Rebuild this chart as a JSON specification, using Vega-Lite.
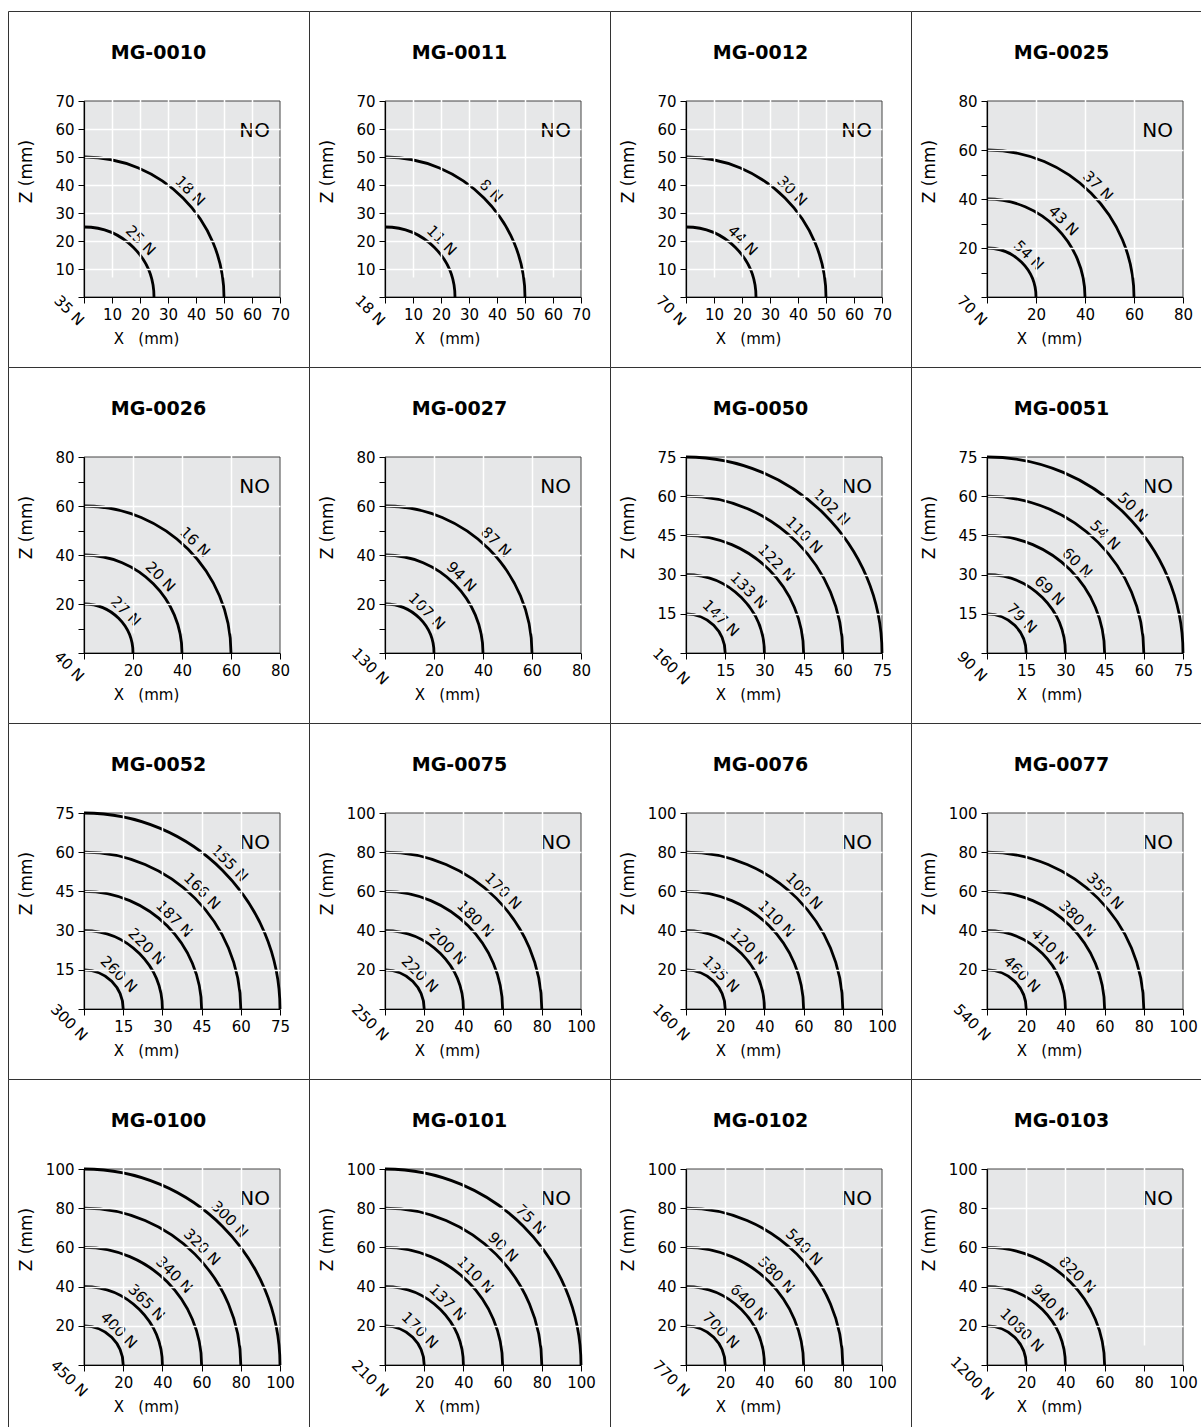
{
"$schema":"https://vega.github.io/schema/vega-lite/v6.json",
"padding":{"left":7,"top":10,"right":0,"bottom":0},
"background":"white",
"columns":4,
"spacing":0,
"bounds":"flush",
"resolve":{"scale":{"size":"independent"}},
"config":{
 "font":"DejaVu Sans",
 "view":{"stroke":"#333","strokeWidth":1,"fill":"#fff"},
 "title":{"fontSize":19,"fontWeight":"bold","color":"#000","offset":-52,"anchor":"middle","frame":"group","font":"DejaVu Sans"},
 "axis":{"grid":true,"gridColor":"#fff","gridWidth":1.5,"domainColor":"#000","domainWidth":1.2,"tickColor":"#000","tickSize":6,"tickWidth":1,"labelFont":"DejaVu Sans","labelFontSize":15,"labelColor":"#000","labelPadding":4,"labelFlush":false,"labelOverlap":false,"titleFont":"DejaVu Sans","titleFontWeight":"normal","titleColor":"#000","titleAlign":"center","titleBaseline":"middle"},
 "axisX":{"titleFontSize":15},
 "axisY":{"titleFontSize":17},
 "text":{"font":"DejaVu Sans"}
},
"concat":[
{"title":"MG-0010","width":301,"height":356,
 "data":{"values":[{"r":50,"label":"18 N","lx":35.36,"ly":35.36},{"r":25,"label":"25 N","lx":17.68,"ly":17.68}]},
 "layer":[
  {"data":{"values":[{"min":0,"max":70}]},"mark":{"type":"rect","fill":"#e6e7e8","stroke":"#444","strokeWidth":1},
   "encoding":{
    "x":{"field":"min","type":"quantitative","scale":{"domain":[0,70],"range":[76,272],"nice":false},"axis":{"values":[0,10,20,30,40,50,60,70],"labelExpr":"datum.value > 0 ? datum.label : ''","labelOverlap":false,"gridOpacity":{"condition":{"test":"datum.value > 0 && datum.value < 70","value":1},"value":0},"offset":-70,"zindex":1,"title":"X\u00a0\u00a0\u00a0(mm)","titleX":138,"titleY":41}},
    "x2":{"field":"max"},
    "y":{"field":"min","type":"quantitative","scale":{"domain":[0,70],"range":[286,90],"nice":false},"axis":{"values":[0,10,20,30,40,50,60,70],"labelExpr":"datum.value > 0 ? datum.label : ''","labelOverlap":false,"gridOpacity":{"condition":{"test":"datum.value > 0 && datum.value < 70","value":1},"value":0},"offset":-76,"zindex":1,"title":"Z (mm)","titleX":-58,"titleY":160}},
    "y2":{"field":"max"}}},
  {"mark":{"type":"point","shape":"M-1,0A1,1,0,0,1,0,1","filled":false,"stroke":"#000","strokeWidth":2.8,"opacity":1},"encoding":{"x":{"field":"r","type":"quantitative"},"y":{"field":"r","type":"quantitative"},"size":{"field":"r","type":"quantitative","legend":null,"scale":{"type":"pow","exponent":2,"domain":[0,70],"range":[0,153664]}}}},
  {"mark":{"type":"text","angle":45,"dy":-10,"fontSize":15,"color":"#000"},"encoding":{"x":{"field":"lx","type":"quantitative"},"y":{"field":"ly","type":"quantitative"},"text":{"field":"label"}}},
  {"data":{"values":[{"max":70,"zone":"NO"}]},"mark":{"type":"text","align":"right","baseline":"middle","dx":-10,"dy":30,"fontSize":20,"color":"#000"},"encoding":{"x":{"field":"max","type":"quantitative"},"y":{"field":"max","type":"quantitative"},"text":{"field":"zone"}}},
  {"data":{"values":[{"min":0,"corner":"35 N"}]},"mark":{"type":"text","angle":45,"dx":-1,"dy":20,"fontSize":15,"color":"#000"},"encoding":{"x":{"field":"min","type":"quantitative"},"y":{"field":"min","type":"quantitative"},"text":{"field":"corner"}}}
 ]},
{"title":"MG-0011","width":301,"height":356,
 "data":{"values":[{"r":50,"label":"8 N","lx":35.36,"ly":35.36},{"r":25,"label":"11 N","lx":17.68,"ly":17.68}]},
 "layer":[
  {"data":{"values":[{"min":0,"max":70}]},"mark":{"type":"rect","fill":"#e6e7e8","stroke":"#444","strokeWidth":1},
   "encoding":{
    "x":{"field":"min","type":"quantitative","scale":{"domain":[0,70],"range":[76,272],"nice":false},"axis":{"values":[0,10,20,30,40,50,60,70],"labelExpr":"datum.value > 0 ? datum.label : ''","labelOverlap":false,"gridOpacity":{"condition":{"test":"datum.value > 0 && datum.value < 70","value":1},"value":0},"offset":-70,"zindex":1,"title":"X\u00a0\u00a0\u00a0(mm)","titleX":138,"titleY":41}},
    "x2":{"field":"max"},
    "y":{"field":"min","type":"quantitative","scale":{"domain":[0,70],"range":[286,90],"nice":false},"axis":{"values":[0,10,20,30,40,50,60,70],"labelExpr":"datum.value > 0 ? datum.label : ''","labelOverlap":false,"gridOpacity":{"condition":{"test":"datum.value > 0 && datum.value < 70","value":1},"value":0},"offset":-76,"zindex":1,"title":"Z (mm)","titleX":-58,"titleY":160}},
    "y2":{"field":"max"}}},
  {"mark":{"type":"point","shape":"M-1,0A1,1,0,0,1,0,1","filled":false,"stroke":"#000","strokeWidth":2.8,"opacity":1},"encoding":{"x":{"field":"r","type":"quantitative"},"y":{"field":"r","type":"quantitative"},"size":{"field":"r","type":"quantitative","legend":null,"scale":{"type":"pow","exponent":2,"domain":[0,70],"range":[0,153664]}}}},
  {"mark":{"type":"text","angle":45,"dy":-10,"fontSize":15,"color":"#000"},"encoding":{"x":{"field":"lx","type":"quantitative"},"y":{"field":"ly","type":"quantitative"},"text":{"field":"label"}}},
  {"data":{"values":[{"max":70,"zone":"NO"}]},"mark":{"type":"text","align":"right","baseline":"middle","dx":-10,"dy":30,"fontSize":20,"color":"#000"},"encoding":{"x":{"field":"max","type":"quantitative"},"y":{"field":"max","type":"quantitative"},"text":{"field":"zone"}}},
  {"data":{"values":[{"min":0,"corner":"18 N"}]},"mark":{"type":"text","angle":45,"dx":-1,"dy":20,"fontSize":15,"color":"#000"},"encoding":{"x":{"field":"min","type":"quantitative"},"y":{"field":"min","type":"quantitative"},"text":{"field":"corner"}}}
 ]},
{"title":"MG-0012","width":301,"height":356,
 "data":{"values":[{"r":50,"label":"30 N","lx":35.36,"ly":35.36},{"r":25,"label":"44 N","lx":17.68,"ly":17.68}]},
 "layer":[
  {"data":{"values":[{"min":0,"max":70}]},"mark":{"type":"rect","fill":"#e6e7e8","stroke":"#444","strokeWidth":1},
   "encoding":{
    "x":{"field":"min","type":"quantitative","scale":{"domain":[0,70],"range":[76,272],"nice":false},"axis":{"values":[0,10,20,30,40,50,60,70],"labelExpr":"datum.value > 0 ? datum.label : ''","labelOverlap":false,"gridOpacity":{"condition":{"test":"datum.value > 0 && datum.value < 70","value":1},"value":0},"offset":-70,"zindex":1,"title":"X\u00a0\u00a0\u00a0(mm)","titleX":138,"titleY":41}},
    "x2":{"field":"max"},
    "y":{"field":"min","type":"quantitative","scale":{"domain":[0,70],"range":[286,90],"nice":false},"axis":{"values":[0,10,20,30,40,50,60,70],"labelExpr":"datum.value > 0 ? datum.label : ''","labelOverlap":false,"gridOpacity":{"condition":{"test":"datum.value > 0 && datum.value < 70","value":1},"value":0},"offset":-76,"zindex":1,"title":"Z (mm)","titleX":-58,"titleY":160}},
    "y2":{"field":"max"}}},
  {"mark":{"type":"point","shape":"M-1,0A1,1,0,0,1,0,1","filled":false,"stroke":"#000","strokeWidth":2.8,"opacity":1},"encoding":{"x":{"field":"r","type":"quantitative"},"y":{"field":"r","type":"quantitative"},"size":{"field":"r","type":"quantitative","legend":null,"scale":{"type":"pow","exponent":2,"domain":[0,70],"range":[0,153664]}}}},
  {"mark":{"type":"text","angle":45,"dy":-10,"fontSize":15,"color":"#000"},"encoding":{"x":{"field":"lx","type":"quantitative"},"y":{"field":"ly","type":"quantitative"},"text":{"field":"label"}}},
  {"data":{"values":[{"max":70,"zone":"NO"}]},"mark":{"type":"text","align":"right","baseline":"middle","dx":-10,"dy":30,"fontSize":20,"color":"#000"},"encoding":{"x":{"field":"max","type":"quantitative"},"y":{"field":"max","type":"quantitative"},"text":{"field":"zone"}}},
  {"data":{"values":[{"min":0,"corner":"70 N"}]},"mark":{"type":"text","angle":45,"dx":-1,"dy":20,"fontSize":15,"color":"#000"},"encoding":{"x":{"field":"min","type":"quantitative"},"y":{"field":"min","type":"quantitative"},"text":{"field":"corner"}}}
 ]},
{"title":"MG-0025","width":301,"height":356,
 "data":{"values":[{"r":60,"label":"37 N","lx":42.43,"ly":42.43},{"r":40,"label":"43 N","lx":28.28,"ly":28.28},{"r":20,"label":"54 N","lx":14.14,"ly":14.14}]},
 "layer":[
  {"data":{"values":[{"min":0,"max":80}]},"mark":{"type":"rect","fill":"#e6e7e8","stroke":"#444","strokeWidth":1},
   "encoding":{
    "x":{"field":"min","type":"quantitative","scale":{"domain":[0,80],"range":[76,272],"nice":false},"axis":{"values":[0,10,20,30,40,50,60,70,80],"labelExpr":"datum.value > 0 && datum.value % 20 === 0 ? datum.label : ''","labelOverlap":false,"gridOpacity":{"condition":{"test":"datum.value > 0 && datum.value < 80 && datum.value % 20 === 0","value":1},"value":0},"offset":-70,"zindex":1,"title":"X\u00a0\u00a0\u00a0(mm)","titleX":138,"titleY":41}},
    "x2":{"field":"max"},
    "y":{"field":"min","type":"quantitative","scale":{"domain":[0,80],"range":[286,90],"nice":false},"axis":{"values":[0,10,20,30,40,50,60,70,80],"labelExpr":"datum.value > 0 && datum.value % 20 === 0 ? datum.label : ''","labelOverlap":false,"gridOpacity":{"condition":{"test":"datum.value > 0 && datum.value < 80 && datum.value % 20 === 0","value":1},"value":0},"offset":-76,"zindex":1,"title":"Z (mm)","titleX":-58,"titleY":160}},
    "y2":{"field":"max"}}},
  {"mark":{"type":"point","shape":"M-1,0A1,1,0,0,1,0,1","filled":false,"stroke":"#000","strokeWidth":2.8,"opacity":1},"encoding":{"x":{"field":"r","type":"quantitative"},"y":{"field":"r","type":"quantitative"},"size":{"field":"r","type":"quantitative","legend":null,"scale":{"type":"pow","exponent":2,"domain":[0,80],"range":[0,153664]}}}},
  {"mark":{"type":"text","angle":45,"dy":-10,"fontSize":15,"color":"#000"},"encoding":{"x":{"field":"lx","type":"quantitative"},"y":{"field":"ly","type":"quantitative"},"text":{"field":"label"}}},
  {"data":{"values":[{"max":80,"zone":"NO"}]},"mark":{"type":"text","align":"right","baseline":"middle","dx":-10,"dy":30,"fontSize":20,"color":"#000"},"encoding":{"x":{"field":"max","type":"quantitative"},"y":{"field":"max","type":"quantitative"},"text":{"field":"zone"}}},
  {"data":{"values":[{"min":0,"corner":"70 N"}]},"mark":{"type":"text","angle":45,"dx":-1,"dy":20,"fontSize":15,"color":"#000"},"encoding":{"x":{"field":"min","type":"quantitative"},"y":{"field":"min","type":"quantitative"},"text":{"field":"corner"}}}
 ]},
{"title":"MG-0026","width":301,"height":356,
 "data":{"values":[{"r":60,"label":"16 N","lx":42.43,"ly":42.43},{"r":40,"label":"20 N","lx":28.28,"ly":28.28},{"r":20,"label":"27 N","lx":14.14,"ly":14.14}]},
 "layer":[
  {"data":{"values":[{"min":0,"max":80}]},"mark":{"type":"rect","fill":"#e6e7e8","stroke":"#444","strokeWidth":1},
   "encoding":{
    "x":{"field":"min","type":"quantitative","scale":{"domain":[0,80],"range":[76,272],"nice":false},"axis":{"values":[0,10,20,30,40,50,60,70,80],"labelExpr":"datum.value > 0 && datum.value % 20 === 0 ? datum.label : ''","labelOverlap":false,"gridOpacity":{"condition":{"test":"datum.value > 0 && datum.value < 80 && datum.value % 20 === 0","value":1},"value":0},"offset":-70,"zindex":1,"title":"X\u00a0\u00a0\u00a0(mm)","titleX":138,"titleY":41}},
    "x2":{"field":"max"},
    "y":{"field":"min","type":"quantitative","scale":{"domain":[0,80],"range":[286,90],"nice":false},"axis":{"values":[0,10,20,30,40,50,60,70,80],"labelExpr":"datum.value > 0 && datum.value % 20 === 0 ? datum.label : ''","labelOverlap":false,"gridOpacity":{"condition":{"test":"datum.value > 0 && datum.value < 80 && datum.value % 20 === 0","value":1},"value":0},"offset":-76,"zindex":1,"title":"Z (mm)","titleX":-58,"titleY":160}},
    "y2":{"field":"max"}}},
  {"mark":{"type":"point","shape":"M-1,0A1,1,0,0,1,0,1","filled":false,"stroke":"#000","strokeWidth":2.8,"opacity":1},"encoding":{"x":{"field":"r","type":"quantitative"},"y":{"field":"r","type":"quantitative"},"size":{"field":"r","type":"quantitative","legend":null,"scale":{"type":"pow","exponent":2,"domain":[0,80],"range":[0,153664]}}}},
  {"mark":{"type":"text","angle":45,"dy":-10,"fontSize":15,"color":"#000"},"encoding":{"x":{"field":"lx","type":"quantitative"},"y":{"field":"ly","type":"quantitative"},"text":{"field":"label"}}},
  {"data":{"values":[{"max":80,"zone":"NO"}]},"mark":{"type":"text","align":"right","baseline":"middle","dx":-10,"dy":30,"fontSize":20,"color":"#000"},"encoding":{"x":{"field":"max","type":"quantitative"},"y":{"field":"max","type":"quantitative"},"text":{"field":"zone"}}},
  {"data":{"values":[{"min":0,"corner":"40 N"}]},"mark":{"type":"text","angle":45,"dx":-1,"dy":20,"fontSize":15,"color":"#000"},"encoding":{"x":{"field":"min","type":"quantitative"},"y":{"field":"min","type":"quantitative"},"text":{"field":"corner"}}}
 ]},
{"title":"MG-0027","width":301,"height":356,
 "data":{"values":[{"r":60,"label":"87 N","lx":42.43,"ly":42.43},{"r":40,"label":"94 N","lx":28.28,"ly":28.28},{"r":20,"label":"107 N","lx":14.14,"ly":14.14}]},
 "layer":[
  {"data":{"values":[{"min":0,"max":80}]},"mark":{"type":"rect","fill":"#e6e7e8","stroke":"#444","strokeWidth":1},
   "encoding":{
    "x":{"field":"min","type":"quantitative","scale":{"domain":[0,80],"range":[76,272],"nice":false},"axis":{"values":[0,10,20,30,40,50,60,70,80],"labelExpr":"datum.value > 0 && datum.value % 20 === 0 ? datum.label : ''","labelOverlap":false,"gridOpacity":{"condition":{"test":"datum.value > 0 && datum.value < 80 && datum.value % 20 === 0","value":1},"value":0},"offset":-70,"zindex":1,"title":"X\u00a0\u00a0\u00a0(mm)","titleX":138,"titleY":41}},
    "x2":{"field":"max"},
    "y":{"field":"min","type":"quantitative","scale":{"domain":[0,80],"range":[286,90],"nice":false},"axis":{"values":[0,10,20,30,40,50,60,70,80],"labelExpr":"datum.value > 0 && datum.value % 20 === 0 ? datum.label : ''","labelOverlap":false,"gridOpacity":{"condition":{"test":"datum.value > 0 && datum.value < 80 && datum.value % 20 === 0","value":1},"value":0},"offset":-76,"zindex":1,"title":"Z (mm)","titleX":-58,"titleY":160}},
    "y2":{"field":"max"}}},
  {"mark":{"type":"point","shape":"M-1,0A1,1,0,0,1,0,1","filled":false,"stroke":"#000","strokeWidth":2.8,"opacity":1},"encoding":{"x":{"field":"r","type":"quantitative"},"y":{"field":"r","type":"quantitative"},"size":{"field":"r","type":"quantitative","legend":null,"scale":{"type":"pow","exponent":2,"domain":[0,80],"range":[0,153664]}}}},
  {"mark":{"type":"text","angle":45,"dy":-10,"fontSize":15,"color":"#000"},"encoding":{"x":{"field":"lx","type":"quantitative"},"y":{"field":"ly","type":"quantitative"},"text":{"field":"label"}}},
  {"data":{"values":[{"max":80,"zone":"NO"}]},"mark":{"type":"text","align":"right","baseline":"middle","dx":-10,"dy":30,"fontSize":20,"color":"#000"},"encoding":{"x":{"field":"max","type":"quantitative"},"y":{"field":"max","type":"quantitative"},"text":{"field":"zone"}}},
  {"data":{"values":[{"min":0,"corner":"130 N"}]},"mark":{"type":"text","angle":45,"dx":-1,"dy":20,"fontSize":15,"color":"#000"},"encoding":{"x":{"field":"min","type":"quantitative"},"y":{"field":"min","type":"quantitative"},"text":{"field":"corner"}}}
 ]},
{"title":"MG-0050","width":301,"height":356,
 "data":{"values":[{"r":75,"label":"102 N","lx":53.03,"ly":53.03},{"r":60,"label":"110 N","lx":42.43,"ly":42.43},{"r":45,"label":"122 N","lx":31.82,"ly":31.82},{"r":30,"label":"133 N","lx":21.21,"ly":21.21},{"r":15,"label":"147 N","lx":10.61,"ly":10.61}]},
 "layer":[
  {"data":{"values":[{"min":0,"max":75}]},"mark":{"type":"rect","fill":"#e6e7e8","stroke":"#444","strokeWidth":1},
   "encoding":{
    "x":{"field":"min","type":"quantitative","scale":{"domain":[0,75],"range":[76,272],"nice":false},"axis":{"values":[0,15,30,45,60,75],"labelExpr":"datum.value > 0 ? datum.label : ''","labelOverlap":false,"gridOpacity":{"condition":{"test":"datum.value > 0 && datum.value < 75","value":1},"value":0},"offset":-70,"zindex":1,"title":"X\u00a0\u00a0\u00a0(mm)","titleX":138,"titleY":41}},
    "x2":{"field":"max"},
    "y":{"field":"min","type":"quantitative","scale":{"domain":[0,75],"range":[286,90],"nice":false},"axis":{"values":[0,15,30,45,60,75],"labelExpr":"datum.value > 0 ? datum.label : ''","labelOverlap":false,"gridOpacity":{"condition":{"test":"datum.value > 0 && datum.value < 75","value":1},"value":0},"offset":-76,"zindex":1,"title":"Z (mm)","titleX":-58,"titleY":160}},
    "y2":{"field":"max"}}},
  {"mark":{"type":"point","shape":"M-1,0A1,1,0,0,1,0,1","filled":false,"stroke":"#000","strokeWidth":2.8,"opacity":1},"encoding":{"x":{"field":"r","type":"quantitative"},"y":{"field":"r","type":"quantitative"},"size":{"field":"r","type":"quantitative","legend":null,"scale":{"type":"pow","exponent":2,"domain":[0,75],"range":[0,153664]}}}},
  {"mark":{"type":"text","angle":45,"dy":-10,"fontSize":15,"color":"#000"},"encoding":{"x":{"field":"lx","type":"quantitative"},"y":{"field":"ly","type":"quantitative"},"text":{"field":"label"}}},
  {"data":{"values":[{"max":75,"zone":"NO"}]},"mark":{"type":"text","align":"right","baseline":"middle","dx":-10,"dy":30,"fontSize":20,"color":"#000"},"encoding":{"x":{"field":"max","type":"quantitative"},"y":{"field":"max","type":"quantitative"},"text":{"field":"zone"}}},
  {"data":{"values":[{"min":0,"corner":"160 N"}]},"mark":{"type":"text","angle":45,"dx":-1,"dy":20,"fontSize":15,"color":"#000"},"encoding":{"x":{"field":"min","type":"quantitative"},"y":{"field":"min","type":"quantitative"},"text":{"field":"corner"}}}
 ]},
{"title":"MG-0051","width":301,"height":356,
 "data":{"values":[{"r":75,"label":"50 N","lx":53.03,"ly":53.03},{"r":60,"label":"54 N","lx":42.43,"ly":42.43},{"r":45,"label":"60 N","lx":31.82,"ly":31.82},{"r":30,"label":"69 N","lx":21.21,"ly":21.21},{"r":15,"label":"79 N","lx":10.61,"ly":10.61}]},
 "layer":[
  {"data":{"values":[{"min":0,"max":75}]},"mark":{"type":"rect","fill":"#e6e7e8","stroke":"#444","strokeWidth":1},
   "encoding":{
    "x":{"field":"min","type":"quantitative","scale":{"domain":[0,75],"range":[76,272],"nice":false},"axis":{"values":[0,15,30,45,60,75],"labelExpr":"datum.value > 0 ? datum.label : ''","labelOverlap":false,"gridOpacity":{"condition":{"test":"datum.value > 0 && datum.value < 75","value":1},"value":0},"offset":-70,"zindex":1,"title":"X\u00a0\u00a0\u00a0(mm)","titleX":138,"titleY":41}},
    "x2":{"field":"max"},
    "y":{"field":"min","type":"quantitative","scale":{"domain":[0,75],"range":[286,90],"nice":false},"axis":{"values":[0,15,30,45,60,75],"labelExpr":"datum.value > 0 ? datum.label : ''","labelOverlap":false,"gridOpacity":{"condition":{"test":"datum.value > 0 && datum.value < 75","value":1},"value":0},"offset":-76,"zindex":1,"title":"Z (mm)","titleX":-58,"titleY":160}},
    "y2":{"field":"max"}}},
  {"mark":{"type":"point","shape":"M-1,0A1,1,0,0,1,0,1","filled":false,"stroke":"#000","strokeWidth":2.8,"opacity":1},"encoding":{"x":{"field":"r","type":"quantitative"},"y":{"field":"r","type":"quantitative"},"size":{"field":"r","type":"quantitative","legend":null,"scale":{"type":"pow","exponent":2,"domain":[0,75],"range":[0,153664]}}}},
  {"mark":{"type":"text","angle":45,"dy":-10,"fontSize":15,"color":"#000"},"encoding":{"x":{"field":"lx","type":"quantitative"},"y":{"field":"ly","type":"quantitative"},"text":{"field":"label"}}},
  {"data":{"values":[{"max":75,"zone":"NO"}]},"mark":{"type":"text","align":"right","baseline":"middle","dx":-10,"dy":30,"fontSize":20,"color":"#000"},"encoding":{"x":{"field":"max","type":"quantitative"},"y":{"field":"max","type":"quantitative"},"text":{"field":"zone"}}},
  {"data":{"values":[{"min":0,"corner":"90 N"}]},"mark":{"type":"text","angle":45,"dx":-1,"dy":20,"fontSize":15,"color":"#000"},"encoding":{"x":{"field":"min","type":"quantitative"},"y":{"field":"min","type":"quantitative"},"text":{"field":"corner"}}}
 ]},
{"title":"MG-0052","width":301,"height":356,
 "data":{"values":[{"r":75,"label":"155 N","lx":53.03,"ly":53.03},{"r":60,"label":"166 N","lx":42.43,"ly":42.43},{"r":45,"label":"187 N","lx":31.82,"ly":31.82},{"r":30,"label":"220 N","lx":21.21,"ly":21.21},{"r":15,"label":"260 N","lx":10.61,"ly":10.61}]},
 "layer":[
  {"data":{"values":[{"min":0,"max":75}]},"mark":{"type":"rect","fill":"#e6e7e8","stroke":"#444","strokeWidth":1},
   "encoding":{
    "x":{"field":"min","type":"quantitative","scale":{"domain":[0,75],"range":[76,272],"nice":false},"axis":{"values":[0,15,30,45,60,75],"labelExpr":"datum.value > 0 ? datum.label : ''","labelOverlap":false,"gridOpacity":{"condition":{"test":"datum.value > 0 && datum.value < 75","value":1},"value":0},"offset":-70,"zindex":1,"title":"X\u00a0\u00a0\u00a0(mm)","titleX":138,"titleY":41}},
    "x2":{"field":"max"},
    "y":{"field":"min","type":"quantitative","scale":{"domain":[0,75],"range":[286,90],"nice":false},"axis":{"values":[0,15,30,45,60,75],"labelExpr":"datum.value > 0 ? datum.label : ''","labelOverlap":false,"gridOpacity":{"condition":{"test":"datum.value > 0 && datum.value < 75","value":1},"value":0},"offset":-76,"zindex":1,"title":"Z (mm)","titleX":-58,"titleY":160}},
    "y2":{"field":"max"}}},
  {"mark":{"type":"point","shape":"M-1,0A1,1,0,0,1,0,1","filled":false,"stroke":"#000","strokeWidth":2.8,"opacity":1},"encoding":{"x":{"field":"r","type":"quantitative"},"y":{"field":"r","type":"quantitative"},"size":{"field":"r","type":"quantitative","legend":null,"scale":{"type":"pow","exponent":2,"domain":[0,75],"range":[0,153664]}}}},
  {"mark":{"type":"text","angle":45,"dy":-10,"fontSize":15,"color":"#000"},"encoding":{"x":{"field":"lx","type":"quantitative"},"y":{"field":"ly","type":"quantitative"},"text":{"field":"label"}}},
  {"data":{"values":[{"max":75,"zone":"NO"}]},"mark":{"type":"text","align":"right","baseline":"middle","dx":-10,"dy":30,"fontSize":20,"color":"#000"},"encoding":{"x":{"field":"max","type":"quantitative"},"y":{"field":"max","type":"quantitative"},"text":{"field":"zone"}}},
  {"data":{"values":[{"min":0,"corner":"300 N"}]},"mark":{"type":"text","angle":45,"dx":-1,"dy":20,"fontSize":15,"color":"#000"},"encoding":{"x":{"field":"min","type":"quantitative"},"y":{"field":"min","type":"quantitative"},"text":{"field":"corner"}}}
 ]},
{"title":"MG-0075","width":301,"height":356,
 "data":{"values":[{"r":80,"label":"170 N","lx":56.57,"ly":56.57},{"r":60,"label":"180 N","lx":42.43,"ly":42.43},{"r":40,"label":"200 N","lx":28.28,"ly":28.28},{"r":20,"label":"220 N","lx":14.14,"ly":14.14}]},
 "layer":[
  {"data":{"values":[{"min":0,"max":100}]},"mark":{"type":"rect","fill":"#e6e7e8","stroke":"#444","strokeWidth":1},
   "encoding":{
    "x":{"field":"min","type":"quantitative","scale":{"domain":[0,100],"range":[76,272],"nice":false},"axis":{"values":[0,20,40,60,80,100],"labelExpr":"datum.value > 0 ? datum.label : ''","labelOverlap":false,"gridOpacity":{"condition":{"test":"datum.value > 0 && datum.value < 100","value":1},"value":0},"offset":-70,"zindex":1,"title":"X\u00a0\u00a0\u00a0(mm)","titleX":138,"titleY":41}},
    "x2":{"field":"max"},
    "y":{"field":"min","type":"quantitative","scale":{"domain":[0,100],"range":[286,90],"nice":false},"axis":{"values":[0,20,40,60,80,100],"labelExpr":"datum.value > 0 ? datum.label : ''","labelOverlap":false,"gridOpacity":{"condition":{"test":"datum.value > 0 && datum.value < 100","value":1},"value":0},"offset":-76,"zindex":1,"title":"Z (mm)","titleX":-58,"titleY":160}},
    "y2":{"field":"max"}}},
  {"mark":{"type":"point","shape":"M-1,0A1,1,0,0,1,0,1","filled":false,"stroke":"#000","strokeWidth":2.8,"opacity":1},"encoding":{"x":{"field":"r","type":"quantitative"},"y":{"field":"r","type":"quantitative"},"size":{"field":"r","type":"quantitative","legend":null,"scale":{"type":"pow","exponent":2,"domain":[0,100],"range":[0,153664]}}}},
  {"mark":{"type":"text","angle":45,"dy":-10,"fontSize":15,"color":"#000"},"encoding":{"x":{"field":"lx","type":"quantitative"},"y":{"field":"ly","type":"quantitative"},"text":{"field":"label"}}},
  {"data":{"values":[{"max":100,"zone":"NO"}]},"mark":{"type":"text","align":"right","baseline":"middle","dx":-10,"dy":30,"fontSize":20,"color":"#000"},"encoding":{"x":{"field":"max","type":"quantitative"},"y":{"field":"max","type":"quantitative"},"text":{"field":"zone"}}},
  {"data":{"values":[{"min":0,"corner":"250 N"}]},"mark":{"type":"text","angle":45,"dx":-1,"dy":20,"fontSize":15,"color":"#000"},"encoding":{"x":{"field":"min","type":"quantitative"},"y":{"field":"min","type":"quantitative"},"text":{"field":"corner"}}}
 ]},
{"title":"MG-0076","width":301,"height":356,
 "data":{"values":[{"r":80,"label":"100 N","lx":56.57,"ly":56.57},{"r":60,"label":"110 N","lx":42.43,"ly":42.43},{"r":40,"label":"120 N","lx":28.28,"ly":28.28},{"r":20,"label":"135 N","lx":14.14,"ly":14.14}]},
 "layer":[
  {"data":{"values":[{"min":0,"max":100}]},"mark":{"type":"rect","fill":"#e6e7e8","stroke":"#444","strokeWidth":1},
   "encoding":{
    "x":{"field":"min","type":"quantitative","scale":{"domain":[0,100],"range":[76,272],"nice":false},"axis":{"values":[0,20,40,60,80,100],"labelExpr":"datum.value > 0 ? datum.label : ''","labelOverlap":false,"gridOpacity":{"condition":{"test":"datum.value > 0 && datum.value < 100","value":1},"value":0},"offset":-70,"zindex":1,"title":"X\u00a0\u00a0\u00a0(mm)","titleX":138,"titleY":41}},
    "x2":{"field":"max"},
    "y":{"field":"min","type":"quantitative","scale":{"domain":[0,100],"range":[286,90],"nice":false},"axis":{"values":[0,20,40,60,80,100],"labelExpr":"datum.value > 0 ? datum.label : ''","labelOverlap":false,"gridOpacity":{"condition":{"test":"datum.value > 0 && datum.value < 100","value":1},"value":0},"offset":-76,"zindex":1,"title":"Z (mm)","titleX":-58,"titleY":160}},
    "y2":{"field":"max"}}},
  {"mark":{"type":"point","shape":"M-1,0A1,1,0,0,1,0,1","filled":false,"stroke":"#000","strokeWidth":2.8,"opacity":1},"encoding":{"x":{"field":"r","type":"quantitative"},"y":{"field":"r","type":"quantitative"},"size":{"field":"r","type":"quantitative","legend":null,"scale":{"type":"pow","exponent":2,"domain":[0,100],"range":[0,153664]}}}},
  {"mark":{"type":"text","angle":45,"dy":-10,"fontSize":15,"color":"#000"},"encoding":{"x":{"field":"lx","type":"quantitative"},"y":{"field":"ly","type":"quantitative"},"text":{"field":"label"}}},
  {"data":{"values":[{"max":100,"zone":"NO"}]},"mark":{"type":"text","align":"right","baseline":"middle","dx":-10,"dy":30,"fontSize":20,"color":"#000"},"encoding":{"x":{"field":"max","type":"quantitative"},"y":{"field":"max","type":"quantitative"},"text":{"field":"zone"}}},
  {"data":{"values":[{"min":0,"corner":"160 N"}]},"mark":{"type":"text","angle":45,"dx":-1,"dy":20,"fontSize":15,"color":"#000"},"encoding":{"x":{"field":"min","type":"quantitative"},"y":{"field":"min","type":"quantitative"},"text":{"field":"corner"}}}
 ]},
{"title":"MG-0077","width":301,"height":356,
 "data":{"values":[{"r":80,"label":"350 N","lx":56.57,"ly":56.57},{"r":60,"label":"380 N","lx":42.43,"ly":42.43},{"r":40,"label":"410 N","lx":28.28,"ly":28.28},{"r":20,"label":"460 N","lx":14.14,"ly":14.14}]},
 "layer":[
  {"data":{"values":[{"min":0,"max":100}]},"mark":{"type":"rect","fill":"#e6e7e8","stroke":"#444","strokeWidth":1},
   "encoding":{
    "x":{"field":"min","type":"quantitative","scale":{"domain":[0,100],"range":[76,272],"nice":false},"axis":{"values":[0,20,40,60,80,100],"labelExpr":"datum.value > 0 ? datum.label : ''","labelOverlap":false,"gridOpacity":{"condition":{"test":"datum.value > 0 && datum.value < 100","value":1},"value":0},"offset":-70,"zindex":1,"title":"X\u00a0\u00a0\u00a0(mm)","titleX":138,"titleY":41}},
    "x2":{"field":"max"},
    "y":{"field":"min","type":"quantitative","scale":{"domain":[0,100],"range":[286,90],"nice":false},"axis":{"values":[0,20,40,60,80,100],"labelExpr":"datum.value > 0 ? datum.label : ''","labelOverlap":false,"gridOpacity":{"condition":{"test":"datum.value > 0 && datum.value < 100","value":1},"value":0},"offset":-76,"zindex":1,"title":"Z (mm)","titleX":-58,"titleY":160}},
    "y2":{"field":"max"}}},
  {"mark":{"type":"point","shape":"M-1,0A1,1,0,0,1,0,1","filled":false,"stroke":"#000","strokeWidth":2.8,"opacity":1},"encoding":{"x":{"field":"r","type":"quantitative"},"y":{"field":"r","type":"quantitative"},"size":{"field":"r","type":"quantitative","legend":null,"scale":{"type":"pow","exponent":2,"domain":[0,100],"range":[0,153664]}}}},
  {"mark":{"type":"text","angle":45,"dy":-10,"fontSize":15,"color":"#000"},"encoding":{"x":{"field":"lx","type":"quantitative"},"y":{"field":"ly","type":"quantitative"},"text":{"field":"label"}}},
  {"data":{"values":[{"max":100,"zone":"NO"}]},"mark":{"type":"text","align":"right","baseline":"middle","dx":-10,"dy":30,"fontSize":20,"color":"#000"},"encoding":{"x":{"field":"max","type":"quantitative"},"y":{"field":"max","type":"quantitative"},"text":{"field":"zone"}}},
  {"data":{"values":[{"min":0,"corner":"540 N"}]},"mark":{"type":"text","angle":45,"dx":-1,"dy":20,"fontSize":15,"color":"#000"},"encoding":{"x":{"field":"min","type":"quantitative"},"y":{"field":"min","type":"quantitative"},"text":{"field":"corner"}}}
 ]},
{"title":"MG-0100","width":301,"height":356,
 "data":{"values":[{"r":100,"label":"300 N","lx":70.71,"ly":70.71},{"r":80,"label":"320 N","lx":56.57,"ly":56.57},{"r":60,"label":"340 N","lx":42.43,"ly":42.43},{"r":40,"label":"365 N","lx":28.28,"ly":28.28},{"r":20,"label":"400 N","lx":14.14,"ly":14.14}]},
 "layer":[
  {"data":{"values":[{"min":0,"max":100}]},"mark":{"type":"rect","fill":"#e6e7e8","stroke":"#444","strokeWidth":1},
   "encoding":{
    "x":{"field":"min","type":"quantitative","scale":{"domain":[0,100],"range":[76,272],"nice":false},"axis":{"values":[0,20,40,60,80,100],"labelExpr":"datum.value > 0 ? datum.label : ''","labelOverlap":false,"gridOpacity":{"condition":{"test":"datum.value > 0 && datum.value < 100","value":1},"value":0},"offset":-70,"zindex":1,"title":"X\u00a0\u00a0\u00a0(mm)","titleX":138,"titleY":41}},
    "x2":{"field":"max"},
    "y":{"field":"min","type":"quantitative","scale":{"domain":[0,100],"range":[286,90],"nice":false},"axis":{"values":[0,20,40,60,80,100],"labelExpr":"datum.value > 0 ? datum.label : ''","labelOverlap":false,"gridOpacity":{"condition":{"test":"datum.value > 0 && datum.value < 100","value":1},"value":0},"offset":-76,"zindex":1,"title":"Z (mm)","titleX":-58,"titleY":160}},
    "y2":{"field":"max"}}},
  {"mark":{"type":"point","shape":"M-1,0A1,1,0,0,1,0,1","filled":false,"stroke":"#000","strokeWidth":2.8,"opacity":1},"encoding":{"x":{"field":"r","type":"quantitative"},"y":{"field":"r","type":"quantitative"},"size":{"field":"r","type":"quantitative","legend":null,"scale":{"type":"pow","exponent":2,"domain":[0,100],"range":[0,153664]}}}},
  {"mark":{"type":"text","angle":45,"dy":-10,"fontSize":15,"color":"#000"},"encoding":{"x":{"field":"lx","type":"quantitative"},"y":{"field":"ly","type":"quantitative"},"text":{"field":"label"}}},
  {"data":{"values":[{"max":100,"zone":"NO"}]},"mark":{"type":"text","align":"right","baseline":"middle","dx":-10,"dy":30,"fontSize":20,"color":"#000"},"encoding":{"x":{"field":"max","type":"quantitative"},"y":{"field":"max","type":"quantitative"},"text":{"field":"zone"}}},
  {"data":{"values":[{"min":0,"corner":"450 N"}]},"mark":{"type":"text","angle":45,"dx":-1,"dy":20,"fontSize":15,"color":"#000"},"encoding":{"x":{"field":"min","type":"quantitative"},"y":{"field":"min","type":"quantitative"},"text":{"field":"corner"}}}
 ]},
{"title":"MG-0101","width":301,"height":356,
 "data":{"values":[{"r":100,"label":"75 N","lx":70.71,"ly":70.71},{"r":80,"label":"90 N","lx":56.57,"ly":56.57},{"r":60,"label":"110 N","lx":42.43,"ly":42.43},{"r":40,"label":"137 N","lx":28.28,"ly":28.28},{"r":20,"label":"170 N","lx":14.14,"ly":14.14}]},
 "layer":[
  {"data":{"values":[{"min":0,"max":100}]},"mark":{"type":"rect","fill":"#e6e7e8","stroke":"#444","strokeWidth":1},
   "encoding":{
    "x":{"field":"min","type":"quantitative","scale":{"domain":[0,100],"range":[76,272],"nice":false},"axis":{"values":[0,20,40,60,80,100],"labelExpr":"datum.value > 0 ? datum.label : ''","labelOverlap":false,"gridOpacity":{"condition":{"test":"datum.value > 0 && datum.value < 100","value":1},"value":0},"offset":-70,"zindex":1,"title":"X\u00a0\u00a0\u00a0(mm)","titleX":138,"titleY":41}},
    "x2":{"field":"max"},
    "y":{"field":"min","type":"quantitative","scale":{"domain":[0,100],"range":[286,90],"nice":false},"axis":{"values":[0,20,40,60,80,100],"labelExpr":"datum.value > 0 ? datum.label : ''","labelOverlap":false,"gridOpacity":{"condition":{"test":"datum.value > 0 && datum.value < 100","value":1},"value":0},"offset":-76,"zindex":1,"title":"Z (mm)","titleX":-58,"titleY":160}},
    "y2":{"field":"max"}}},
  {"mark":{"type":"point","shape":"M-1,0A1,1,0,0,1,0,1","filled":false,"stroke":"#000","strokeWidth":2.8,"opacity":1},"encoding":{"x":{"field":"r","type":"quantitative"},"y":{"field":"r","type":"quantitative"},"size":{"field":"r","type":"quantitative","legend":null,"scale":{"type":"pow","exponent":2,"domain":[0,100],"range":[0,153664]}}}},
  {"mark":{"type":"text","angle":45,"dy":-10,"fontSize":15,"color":"#000"},"encoding":{"x":{"field":"lx","type":"quantitative"},"y":{"field":"ly","type":"quantitative"},"text":{"field":"label"}}},
  {"data":{"values":[{"max":100,"zone":"NO"}]},"mark":{"type":"text","align":"right","baseline":"middle","dx":-10,"dy":30,"fontSize":20,"color":"#000"},"encoding":{"x":{"field":"max","type":"quantitative"},"y":{"field":"max","type":"quantitative"},"text":{"field":"zone"}}},
  {"data":{"values":[{"min":0,"corner":"210 N"}]},"mark":{"type":"text","angle":45,"dx":-1,"dy":20,"fontSize":15,"color":"#000"},"encoding":{"x":{"field":"min","type":"quantitative"},"y":{"field":"min","type":"quantitative"},"text":{"field":"corner"}}}
 ]},
{"title":"MG-0102","width":301,"height":356,
 "data":{"values":[{"r":80,"label":"540 N","lx":56.57,"ly":56.57},{"r":60,"label":"580 N","lx":42.43,"ly":42.43},{"r":40,"label":"640 N","lx":28.28,"ly":28.28},{"r":20,"label":"700 N","lx":14.14,"ly":14.14}]},
 "layer":[
  {"data":{"values":[{"min":0,"max":100}]},"mark":{"type":"rect","fill":"#e6e7e8","stroke":"#444","strokeWidth":1},
   "encoding":{
    "x":{"field":"min","type":"quantitative","scale":{"domain":[0,100],"range":[76,272],"nice":false},"axis":{"values":[0,20,40,60,80,100],"labelExpr":"datum.value > 0 ? datum.label : ''","labelOverlap":false,"gridOpacity":{"condition":{"test":"datum.value > 0 && datum.value < 100","value":1},"value":0},"offset":-70,"zindex":1,"title":"X\u00a0\u00a0\u00a0(mm)","titleX":138,"titleY":41}},
    "x2":{"field":"max"},
    "y":{"field":"min","type":"quantitative","scale":{"domain":[0,100],"range":[286,90],"nice":false},"axis":{"values":[0,20,40,60,80,100],"labelExpr":"datum.value > 0 ? datum.label : ''","labelOverlap":false,"gridOpacity":{"condition":{"test":"datum.value > 0 && datum.value < 100","value":1},"value":0},"offset":-76,"zindex":1,"title":"Z (mm)","titleX":-58,"titleY":160}},
    "y2":{"field":"max"}}},
  {"mark":{"type":"point","shape":"M-1,0A1,1,0,0,1,0,1","filled":false,"stroke":"#000","strokeWidth":2.8,"opacity":1},"encoding":{"x":{"field":"r","type":"quantitative"},"y":{"field":"r","type":"quantitative"},"size":{"field":"r","type":"quantitative","legend":null,"scale":{"type":"pow","exponent":2,"domain":[0,100],"range":[0,153664]}}}},
  {"mark":{"type":"text","angle":45,"dy":-10,"fontSize":15,"color":"#000"},"encoding":{"x":{"field":"lx","type":"quantitative"},"y":{"field":"ly","type":"quantitative"},"text":{"field":"label"}}},
  {"data":{"values":[{"max":100,"zone":"NO"}]},"mark":{"type":"text","align":"right","baseline":"middle","dx":-10,"dy":30,"fontSize":20,"color":"#000"},"encoding":{"x":{"field":"max","type":"quantitative"},"y":{"field":"max","type":"quantitative"},"text":{"field":"zone"}}},
  {"data":{"values":[{"min":0,"corner":"770 N"}]},"mark":{"type":"text","angle":45,"dx":-1,"dy":20,"fontSize":15,"color":"#000"},"encoding":{"x":{"field":"min","type":"quantitative"},"y":{"field":"min","type":"quantitative"},"text":{"field":"corner"}}}
 ]},
{"title":"MG-0103","width":301,"height":356,
 "data":{"values":[{"r":60,"label":"820 N","lx":42.43,"ly":42.43},{"r":40,"label":"940 N","lx":28.28,"ly":28.28},{"r":20,"label":"1080 N","lx":14.14,"ly":14.14}]},
 "layer":[
  {"data":{"values":[{"min":0,"max":100}]},"mark":{"type":"rect","fill":"#e6e7e8","stroke":"#444","strokeWidth":1},
   "encoding":{
    "x":{"field":"min","type":"quantitative","scale":{"domain":[0,100],"range":[76,272],"nice":false},"axis":{"values":[0,20,40,60,80,100],"labelExpr":"datum.value > 0 ? datum.label : ''","labelOverlap":false,"gridOpacity":{"condition":{"test":"datum.value > 0 && datum.value < 100","value":1},"value":0},"offset":-70,"zindex":1,"title":"X\u00a0\u00a0\u00a0(mm)","titleX":138,"titleY":41}},
    "x2":{"field":"max"},
    "y":{"field":"min","type":"quantitative","scale":{"domain":[0,100],"range":[286,90],"nice":false},"axis":{"values":[0,20,40,60,80,100],"labelExpr":"datum.value > 0 ? datum.label : ''","labelOverlap":false,"gridOpacity":{"condition":{"test":"datum.value > 0 && datum.value < 100","value":1},"value":0},"offset":-76,"zindex":1,"title":"Z (mm)","titleX":-58,"titleY":160}},
    "y2":{"field":"max"}}},
  {"mark":{"type":"point","shape":"M-1,0A1,1,0,0,1,0,1","filled":false,"stroke":"#000","strokeWidth":2.8,"opacity":1},"encoding":{"x":{"field":"r","type":"quantitative"},"y":{"field":"r","type":"quantitative"},"size":{"field":"r","type":"quantitative","legend":null,"scale":{"type":"pow","exponent":2,"domain":[0,100],"range":[0,153664]}}}},
  {"mark":{"type":"text","angle":45,"dy":-10,"fontSize":15,"color":"#000"},"encoding":{"x":{"field":"lx","type":"quantitative"},"y":{"field":"ly","type":"quantitative"},"text":{"field":"label"}}},
  {"data":{"values":[{"max":100,"zone":"NO"}]},"mark":{"type":"text","align":"right","baseline":"middle","dx":-10,"dy":30,"fontSize":20,"color":"#000"},"encoding":{"x":{"field":"max","type":"quantitative"},"y":{"field":"max","type":"quantitative"},"text":{"field":"zone"}}},
  {"data":{"values":[{"min":0,"corner":"1200 N"}]},"mark":{"type":"text","angle":45,"dx":-1,"dy":20,"fontSize":15,"color":"#000"},"encoding":{"x":{"field":"min","type":"quantitative"},"y":{"field":"min","type":"quantitative"},"text":{"field":"corner"}}}
 ]}
]
}
